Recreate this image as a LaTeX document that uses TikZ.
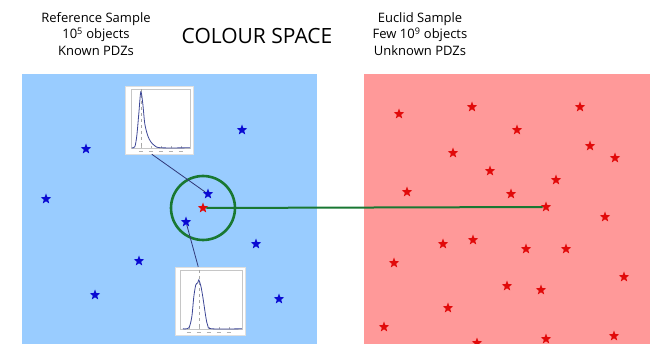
\documentclass[tikz,border=0pt]{standalone}
\usepackage{fontspec}
\setmainfont{Open Sans}
\usetikzlibrary{shapes.geometric}
\definecolor{refblue}{RGB}{153,204,255}
\definecolor{eucred}{RGB}{255,153,153}
\definecolor{starblue}{RGB}{10,10,210}
\definecolor{starred}{RGB}{225,10,10}
\definecolor{nbgreen}{RGB}{25,120,50}
\definecolor{pdfline}{RGB}{60,70,150}
\tikzset{
  bstar/.style={star, star points=5, star point ratio=2.4, inner sep=0pt, minimum size=11pt, fill=starblue},
  rstar/.style={bstar, fill=starred},
  pdfbox/.style={rectangle, fill=white, draw=gray!25, minimum height=68pt, inner sep=0pt},
  headtext/.style={align=center, font=\fontsize{13}{16.5}\selectfont},
  plotline/.style={pdfline, line width=0.8pt},
}
\begin{document}
\begin{tikzpicture}[x=1pt, y=-1pt]
    \useasboundingbox (0,0) rectangle (650,344);
    % the two samples in colour space
    \fill[refblue] (22,74) rectangle (317,344);
    \fill[eucred] (364,74) rectangle (650,344);
    \node[headtext] (reftext) at (96,34) {Reference Sample\\10\textsuperscript{5} objects\\Known PDZs};
    \node[font=\fontsize{21}{25}\selectfont] (title) at (257,36) {COLOUR SPACE};
    \node[headtext] (euctext) at (420,34) {Euclid Sample\\Few 10\textsuperscript{9} objects\\Unknown PDZs};
    % reference objects
    \foreach \x/\y [count=\i] in {242/130, 86/149, 46/199, 208/194, 186/222,
        256/244, 139/261, 95/295, 279/299}
        \node[bstar] (b\i) at (\x,\y) {};
    \node[rstar] (target) at (203,208) {};
    \node[circle, draw=nbgreen, line width=2.6pt, minimum size=64pt] (nbhd) at (target) {};
    % euclid objects
    \foreach \x/\y [count=\i] in {399/114, 472/107, 580/107, 517/130, 453/153,
        590/146, 615/158, 490/171, 556/180, 407/192, 511/194, 546/207,
        605/217, 443/244, 473/240, 526/249, 566/249, 394/263, 624/277,
        507/286, 541/290, 448/308, 384/327, 546/339, 614/336, 477/343}
        \node[rstar] (e\i) at (\x,\y) {};
    \draw[nbgreen, line width=2pt] (target) -- (e12);
    % redshift pdfs of two neighbours
    \node[pdfbox, minimum width=68pt] (pdfa) at (159,120) {};
    \node[pdfbox, minimum width=70pt] (pdfb) at (210,301) {};
    \draw[pdfline!80!black, line width=0.8pt] (pdfa.258) -- (b4);
    \draw[pdfline!80!black, line width=0.8pt] (pdfb.109) -- (b5);
    \begin{scope}[shift={(pdfa.north west)}]
        \draw[gray!45, line width=0.4pt] (6,3) rectangle (65,62);
        \foreach \t in {16,26,36,46,56}
            \draw[gray!60, line width=0.3pt] (\t,62) -- (\t,60) (\t-2,65) -- (\t+2,65);
        \draw[gray!70, dashed, line width=0.4pt] (16,3) -- (16,62);
        \draw[plotline] plot[smooth] coordinates {(7,62) (10,61) (12,50) (14,28)
            (16,6) (18,18) (20,38) (23,50) (26,56) (30,60) (36,62) (65,62)};
    \end{scope}
    \begin{scope}[shift={(pdfb.north west)}]
        \draw[gray!45, line width=0.4pt] (5,3) rectangle (67,62);
        \foreach \t in {14,24,34,44,54}
            \draw[gray!60, line width=0.3pt] (\t,62) -- (\t,60) (\t-2,65) -- (\t+2,65);
        \draw[gray!70, dashed, line width=0.4pt] (24,3) -- (24,62);
        \draw[plotline] plot[smooth] coordinates {(8,62) (14,61) (17,50) (19,30)
            (21,18) (23,16) (24,13) (26,19) (28,30) (31,50) (33,59) (37,62) (67,62)};
    \end{scope}
\end{tikzpicture}
\end{document}
